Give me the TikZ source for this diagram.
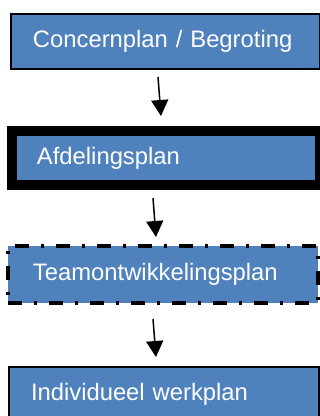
\documentclass[tikz,border=0pt]{standalone}
\usepackage{fontspec}
\setmainfont{Liberation Sans}
\usetikzlibrary{arrows.meta}
\definecolor{boxblue}{HTML}{4F81BD}
\begin{document}
\begin{tikzpicture}[x=1pt,y=-1pt,
  planbox/.style={rectangle, fill=boxblue, draw=black, text=white, outer sep=0pt,
    font=\fontsize{23.8}{26}\selectfont, align=left, inner ysep=0pt, anchor=north west},
  flowarrow/.style={line width=1.5pt, -{Triangle[length=16pt,width=17pt]}}]
\useasboundingbox (0,0) rectangle (320,416);
\clip (0,0) rectangle (320,416);
\node[planbox, line width=1.5pt, minimum width=309pt, minimum height=55pt,
  inner xsep=22pt, text width=265pt] (b1) at (11,14) {Concernplan / Begroting};
\node[planbox, line width=10pt, minimum width=308pt, minimum height=54pt,
  inner xsep=25pt, text width=258pt] (b2) at (12,131) {Afdelingsplan};
\node[planbox, line width=3.3pt, dash pattern=on 14pt off 12pt on 3pt off 12pt,
  minimum width=310pt, minimum height=57pt,
  inner xsep=25pt, text width=260pt] (b3) at (8,246) {Teamontwikkelingsplan};
\node[planbox, line width=1.5pt, minimum width=310pt, minimum height=54pt,
  inner xsep=22pt, text width=266pt] (b4) at (9,367) {Individueel werkplan};
\coordinate (a1s) at (158,77);
\coordinate (a1e) at (161,116);
\coordinate (a2s) at (153,198);
\coordinate (a2e) at (156,237);
\coordinate (a3s) at (153,319);
\coordinate (a3e) at (156,357);
\draw[flowarrow] (a1s) -- (a1e);
\draw[flowarrow] (a2s) -- (a2e);
\draw[flowarrow] (a3s) -- (a3e);
\end{tikzpicture}
\end{document}
